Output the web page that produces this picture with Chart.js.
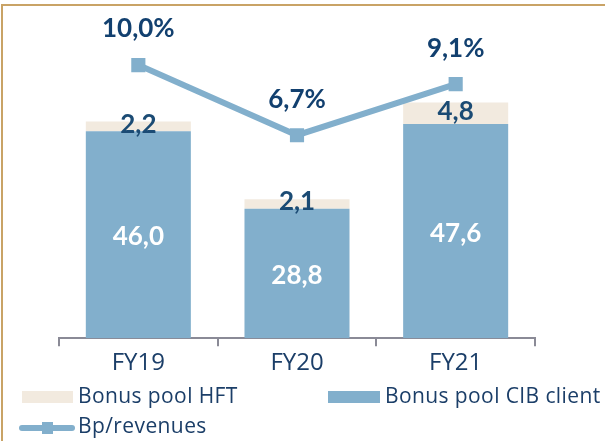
<!DOCTYPE html>
<html>
<head>
<meta charset="utf-8">
<script src="https://cdn.jsdelivr.net/npm/chart.js@4.4.1/dist/chart.umd.min.js"></script>
<style>
  html, body { margin: 0; padding: 0; background: #fff; }
  #wrap { position: relative; width: 605px; height: 441px; }
  #frame { position: absolute; left: 1px; top: 4px; right: -10px; bottom: -10px;
           border-top: 2px solid #C9A366; border-left: 2px solid #C9A366; pointer-events: none; }
</style>
</head>
<body>
<div id="wrap">
  <canvas id="bonusChart" width="605" height="441"></canvas>
  <div id="frame"></div>
</div>
<script>
const categories = ['FY19', 'FY20', 'FY21'];
const cibClient = [46.0, 28.8, 47.6];
const hft = [2.2, 2.1, 4.8];
const bpRevenues = [10.0, 6.7, 9.1];

const blue = '#82AFCC';
const cream = '#F2EADF';
const navy = '#12406F';
const textNavy = '#1B3E68';

function fmt(v) {
  return v.toFixed(1).replace('.', ',');
}

// value labels on bars and line points
const valueLabels = {
  id: 'valueLabels',
  afterDatasetsDraw(chart) {
    const ctx = chart.ctx;
    ctx.save();
    ctx.textAlign = 'center';
    ctx.textBaseline = 'middle';
    chart.data.datasets.forEach((ds, i) => {
      const meta = chart.getDatasetMeta(i);
      meta.data.forEach((el, j) => {
        const v = ds.data[j];
        if (ds.type === 'line') {
          ctx.font = 'bold 26px Lato';
          ctx.fillStyle = navy;
          ctx.fillText(fmt(v) + '%', el.x, el.y - 36);
        } else if (ds.label === 'Bonus pool CIB client') {
          ctx.font = 'bold 26px Lato';
          ctx.fillStyle = '#ffffff';
          ctx.fillText(fmt(v), el.x, (el.y + el.base) / 2 + 2);
        } else {
          ctx.font = 'bold 26px Lato';
          ctx.fillStyle = '#1B4B74';
          ctx.fillText(fmt(v), el.x, (el.y + el.base) / 2 - 2);
        }
      });
    });
    ctx.restore();
  }
};

// legend laid out as in the original slide
const slideLegend = {
  id: 'slideLegend',
  afterDraw(chart) {
    const ctx = chart.ctx;
    const ds = chart.data.datasets;
    ctx.save();
    ctx.font = '21px "Open Sans"';
    ctx.letterSpacing = '0.4px';
    ctx.textBaseline = 'middle';
    ctx.textAlign = 'left';

    ctx.fillStyle = ds[2].backgroundColor;
    ctx.fillRect(22, 391, 51, 12);
    ctx.fillStyle = textNavy;
    ctx.fillText(ds[2].label, 78, 397);

    ctx.fillStyle = ds[1].backgroundColor;
    ctx.fillRect(328, 391, 52, 12);
    ctx.fillStyle = textNavy;
    ctx.fillText(ds[1].label, 385, 397);

    ctx.strokeStyle = ds[0].borderColor;
    ctx.lineWidth = 6;
    ctx.lineCap = 'round';
    ctx.beginPath();
    ctx.moveTo(22, 428);
    ctx.lineTo(72, 428);
    ctx.stroke();
    ctx.fillStyle = ds[0].borderColor;
    ctx.fillRect(42, 422, 11, 12);
    ctx.fillStyle = textNavy;
    ctx.fillText(ds[0].label, 78, 427);
    ctx.restore();
  }
};

new Chart(document.getElementById('bonusChart').getContext('2d'), {
  type: 'bar',
  data: {
    labels: categories,
    datasets: [
      {
        type: 'line',
        label: 'Bp/revenues',
        data: bpRevenues,
        yAxisID: 'y2',
        borderColor: blue,
        backgroundColor: blue,
        borderWidth: 6,
        pointStyle: 'rect',
        pointRadius: 10,
        pointBorderWidth: 0,
        tension: 0,
        order: 0
      },
      {
        label: 'Bonus pool CIB client',
        data: cibClient,
        backgroundColor: blue,
        stack: 'pool',
        order: 1
      },
      {
        label: 'Bonus pool HFT',
        data: hft,
        backgroundColor: cream,
        stack: 'pool',
        order: 2
      }
    ]
  },
  options: {
    responsive: false,
    animation: false,
    layout: { padding: { left: 59, right: 70, top: 20, bottom: 60 } },
    datasets: { bar: { barPercentage: 1, categoryPercentage: 0.662 } },
    plugins: { legend: { display: false }, tooltip: { enabled: false } },
    scales: {
      x: {
        stacked: true,
        grid: { display: true, drawOnChartArea: false, drawTicks: true, tickLength: 8,
                color: '#8A8A96', lineWidth: 2, offset: true },
        border: { display: true, color: '#8A8A96', width: 2 },
        ticks: { color: textNavy, font: { family: '"Open Sans"', size: 24 }, padding: 3 }
      },
      y: { stacked: true, display: false, min: 0, max: 70.75 },
      y2: { display: false, position: 'right', min: -2.85, max: 12.12, grid: { display: false } }
    }
  },
  plugins: [valueLabels, slideLegend]
});
</script>
</body>
</html>
